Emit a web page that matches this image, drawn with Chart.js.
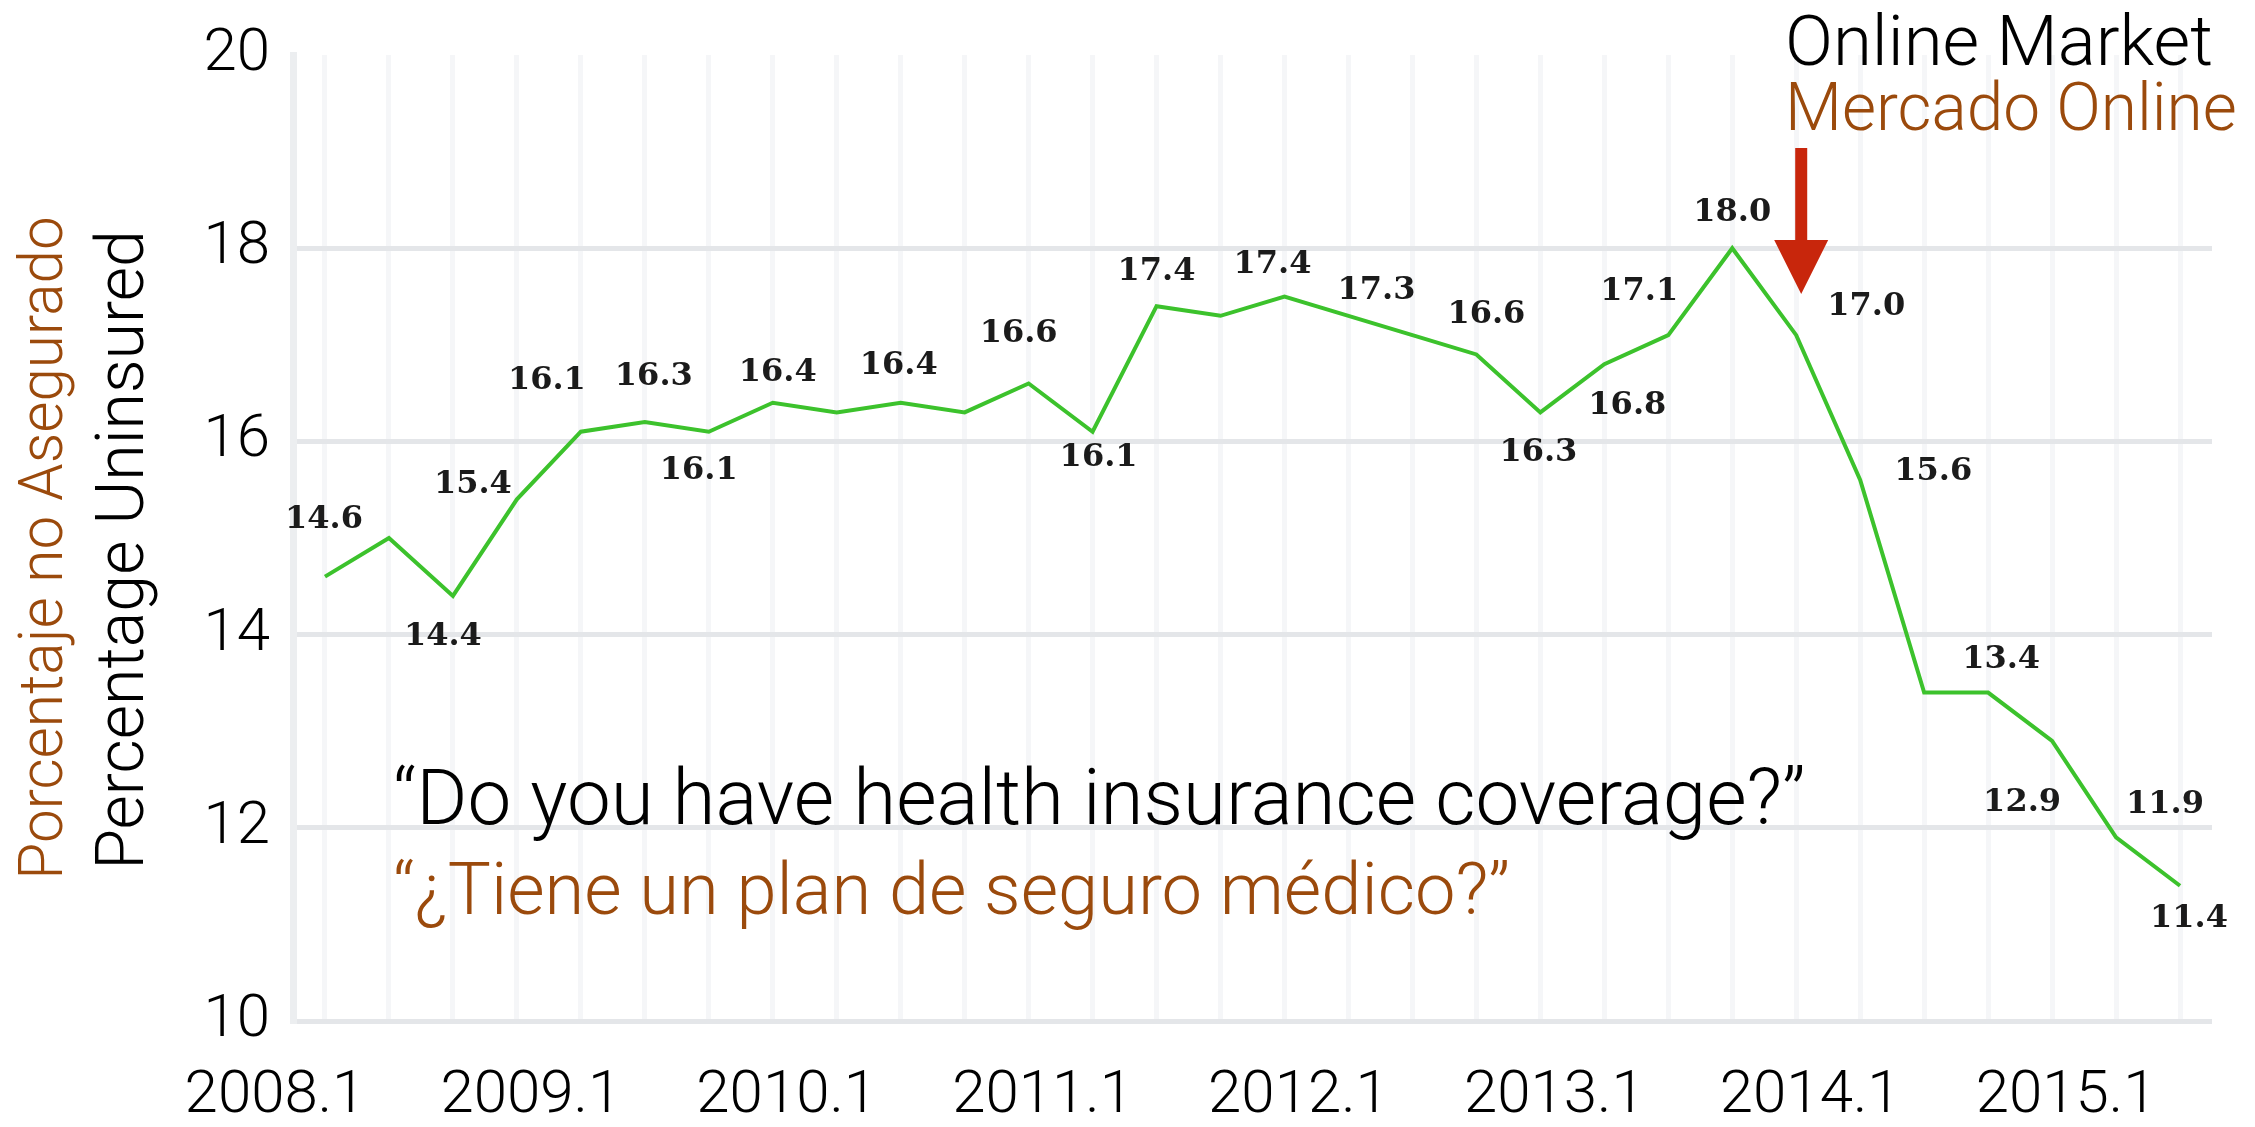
<!DOCTYPE html>
<html>
<head>
<meta charset="utf-8">
<script src="https://cdn.jsdelivr.net/npm/chart.js@4.4.0/dist/chart.umd.min.js"></script>
<style>
  html, body { margin: 0; padding: 0; background: #fff; }
  canvas { display: block; }
</style>
</head>
<body>
<canvas id="chart" width="2255" height="1127"></canvas>
<script>
// quarterly survey, share of adults without health insurance (%)
const quarters = [
  '2008.1', '2008.2', '2008.3', '2008.4',
  '2009.1', '2009.2', '2009.3', '2009.4',
  '2010.1', '2010.2', '2010.3', '2010.4',
  '2011.1', '2011.2', '2011.3', '2011.4',
  '2012.1', '2012.2', '2012.3', '2012.4',
  '2013.1', '2013.2', '2013.3', '2013.4',
  '2014.1', '2014.2', '2014.3', '2014.4',
  '2015.1', '2015.2'
];
const uninsured = [
  14.6, 15.0, 14.4, 15.4,
  16.1, 16.2, 16.1, 16.4,
  16.3, 16.4, 16.3, 16.6,
  16.1, 17.4, 17.3, 17.5,
  17.3, 17.1, 16.9, 16.3,
  16.8, 17.1, 18.0, 17.1,
  15.6, 13.4, 13.4, 12.9,
  11.9, 11.4
];
// value labels as printed on the chart (null = no label)
const valueText = [
  '14.6', null, '14.4', '15.4',
  '16.1', '16.3', '16.1', '16.4',
  null, '16.4', null, '16.6',
  '16.1', '17.4', null, '17.4',
  '17.3', null, '16.6', '16.3',
  '16.8', '17.1', '18.0', '17.0',
  '15.6', null, '13.4', '12.9',
  '11.9', '11.4'
];
const yTicks = [10, 12, 14, 16, 18, 20];
const marketQuarter = '2013.4';

// where each value label sits relative to its point, in px
const labelNudge = [
  [-1, -57], null, [-10, 41], [-44, -15],
  [-34, -51], [9, -45], [-10, 39], [5, -30],
  null, [-2, -37], null, [-10, -50],
  [6, 26], [0, -34], null, [-12, -32],
  [28, -25], null, [10, -40], [-2, 40],
  [23, 42], [-29, -43], [0, -36], [70, -28],
  [73, -8], null, [13, -33], [-30, 62],
  [49, -33], [9, 33]
];

const BROWN = '#9b4a0c';
const SANS = 'Roboto, "Liberation Sans", sans-serif';

function fitSize(ctx, text, weight, width) {
  ctx.font = weight + ' 100px ' + SANS;
  return 100 * width / ctx.measureText(text).width;
}

function fitText(ctx, text, x, y, width, color) {
  const size = fitSize(ctx, text, 300, width);
  ctx.font = '300 ' + size.toFixed(1) + 'px ' + SANS;
  ctx.fillStyle = color;
  ctx.fillText(text, x, y);
}

const valueLabels = {
  id: 'valueLabels',
  afterDatasetsDraw(chart) {
    const { ctx, scales: { x, y } } = chart;
    ctx.save();
    ctx.font = 'bold 32px "DejaVu Serif", serif';
    ctx.fillStyle = '#1b1b1b';
    ctx.textAlign = 'center';
    ctx.textBaseline = 'middle';
    valueText.forEach((txt, i) => {
      if (!txt) return;
      const [dx, dy] = labelNudge[i];
      ctx.fillText(txt, x.getPixelForValue(i) + dx, y.getPixelForValue(uninsured[i]) + dy);
    });
    ctx.restore();
  }
};

const notes = {
  id: 'notes',
  afterDraw(chart) {
    const { ctx, scales: { x } } = chart;
    ctx.save();
    ctx.textAlign = 'left';
    ctx.textBaseline = 'alphabetic';

    // survey question
    fitText(ctx, '\u201CDo you have health insurance coverage?\u201D', 393, 824, 1412, '#000');
    fitText(ctx, '\u201C\u00BFTiene un plan de seguro m\u00E9dico?\u201D', 393, 914, 1117, BROWN);

    // online market callout
    fitText(ctx, 'Online Market', 1785, 65, 428, '#000');
    fitText(ctx, 'Mercado Online', 1785, 130, 452, BROWN);

    const ax = x.getPixelForValue(quarters.indexOf(marketQuarter)) + 5;
    ctx.fillStyle = '#c8260c';
    ctx.fillRect(ax - 6, 148, 12, 94);
    ctx.beginPath();
    ctx.moveTo(ax - 27, 240);
    ctx.lineTo(ax + 27, 240);
    ctx.lineTo(ax, 294);
    ctx.closePath();
    ctx.fill();

    // y axis titles, two languages
    ctx.save();
    ctx.translate(143, 550);
    ctx.rotate(-Math.PI / 2);
    ctx.textAlign = 'center';
    fitText(ctx, 'Percentage Uninsured', 0, 0, 640, '#000');
    ctx.restore();
    ctx.save();
    ctx.translate(62, 548);
    ctx.rotate(-Math.PI / 2);
    ctx.textAlign = 'center';
    fitText(ctx, 'Porcentaje no Asegurado', 0, 0, 664, BROWN);
    ctx.restore();

    ctx.restore();
  }
};

const tickFont = { family: SANS, weight: '300', size: 60, lineHeight: 1 };

new Chart(document.getElementById('chart'), {
  type: 'line',
  data: {
    labels: quarters,
    datasets: [{
      data: uninsured,
      borderColor: '#3cc22c',
      borderWidth: 4,
      pointRadius: 0,
      tension: 0,
      fill: false
    }]
  },
  options: {
    responsive: false,
    devicePixelRatio: 1,
    animation: false,
    layout: { padding: { top: 55, right: 43, left: 0, bottom: 0 } },
    plugins: {
      legend: { display: false },
      tooltip: { enabled: false }
    },
    scales: {
      x: {
        type: 'category',
        offset: true,
        border: { display: false },
        grid: { color: '#f5f6f8', lineWidth: 5, drawTicks: false, offset: false },
        ticks: {
          autoSkip: false,
          maxRotation: 0,
          minRotation: 0,
          labelOffset: -50,
          padding: 46,
          color: '#000',
          font: tickFont,
          callback: (v, i) => quarters[i].endsWith('.1') ? quarters[i] : ''
        },
        afterFit: s => { s.height = 106; }
      },
      y: {
        min: 10,
        max: 20,
        afterBuildTicks: s => { s.ticks = yTicks.map(v => ({ value: v })); },
        border: { color: '#eceef0', width: 7 },
        grid: {
          color: c => (c.tick && c.tick.value === 20) ? 'rgba(0,0,0,0)' : '#e4e6e9',
          lineWidth: 5,
          drawTicks: false
        },
        ticks: { padding: 23, color: '#000', font: tickFont },
        afterFit: s => { s.width = 293; }
      }
    }
  },
  plugins: [valueLabels, notes]
});
</script>
</body>
</html>
